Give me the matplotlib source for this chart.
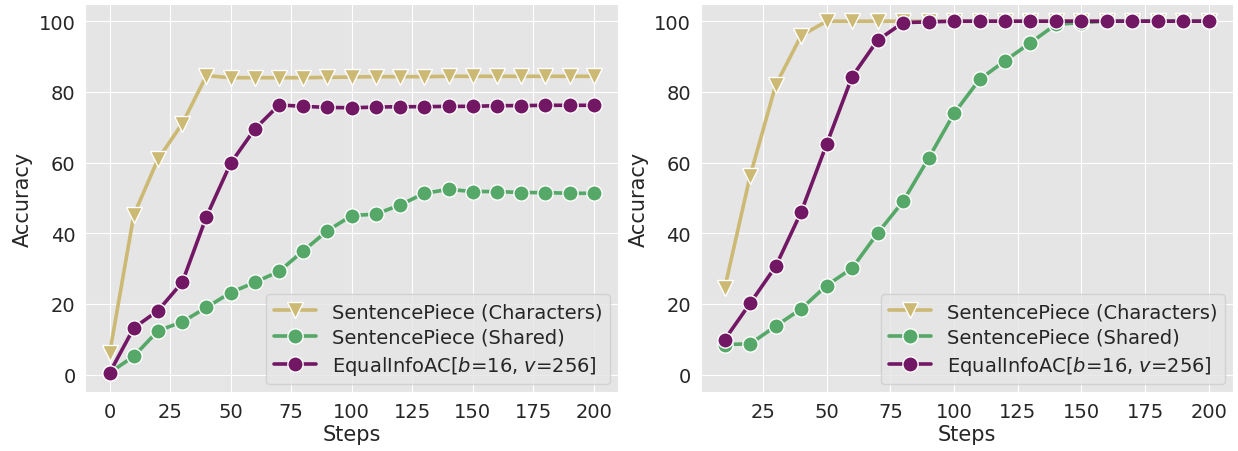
import numpy as np
import matplotlib
matplotlib.use('Agg')
import matplotlib.pyplot as plt
import seaborn as sns

# accuracy vs. training steps, two settings
steps_left = list(range(0, 201, 10))
chars_left = [6.0, 45.2, 61.0, 71.0, 84.6, 84.0, 84.0, 84.0, 84.0, 84.1, 84.2,
              84.3, 84.3, 84.3, 84.4, 84.4, 84.4, 84.4, 84.4, 84.4, 84.4]
shared_left = [0.5, 5.2, 12.4, 14.9, 19.0, 23.2, 26.1, 29.2, 35.0, 40.7, 45.0,
               45.4, 48.0, 51.3, 52.4, 51.8, 51.8, 51.5, 51.5, 51.3, 51.3]
eqac_left = [0.5, 13.2, 18.1, 26.1, 44.7, 59.8, 69.5, 76.3, 75.9, 75.6, 75.5,
             75.7, 75.8, 75.8, 75.9, 75.9, 76.1, 76.1, 76.2, 76.2, 76.2]

steps_right = list(range(10, 201, 10))
chars_right = [24.5, 56.3, 81.9, 95.9, 100, 100, 100, 100, 100, 100,
               100, 100, 100, 100, 100, 100, 100, 100, 100, 100]
shared_right = [8.5, 8.7, 13.7, 18.6, 25.2, 30.1, 40.0, 49.0, 61.2, 73.9,
                83.5, 88.8, 93.9, 99.1, 99.6, 100, 100, 100, 100, 100]
eqac_right = [9.9, 20.2, 30.6, 46.0, 65.2, 84.3, 94.6, 99.6, 99.8, 100,
              100, 100, 100, 100, 100, 100, 100, 100, 100, 100]

labels = ["SentencePiece (Characters)", "SentencePiece (Shared)",
          r"EqualInfoAC[$b$=16, $v$=256]"]
colors = ["#CCB974", "#55A868", "#721764"]
markers = ['v', 'o', 'o']

sns.set_style("darkgrid", {"axes.facecolor": "#e5e5e5", "grid.color": "white"})
plt.rcParams['font.family'] = ['DejaVu Sans']
plt.rcParams['mathtext.fontset'] = 'dejavusans'

fig, axes = plt.subplots(1, 2, figsize=(12.38, 4.52), dpi=100)
fig.subplots_adjust(left=0.069, right=0.996, bottom=0.13, top=0.99, wspace=0.155)

panels = [(axes[0], steps_left, [chars_left, shared_left, eqac_left]),
          (axes[1], steps_right, [chars_right, shared_right, eqac_right])]

for ax, x, series in panels:
    for y, c, m, lab in zip(series, colors, markers, labels):
        ax.plot(x, y, color=c, lw=2.6, marker=m, ms=11,
                mec='white', mew=1.0, label=lab)
    ax.set_ylim(-5, 105)
    ax.set_yticks([0, 20, 40, 60, 80, 100])
    ax.set_xticks([0, 25, 50, 75, 100, 125, 150, 175, 200])
    ax.tick_params(labelsize=14)
    ax.set_xlabel("Steps", fontsize=15, labelpad=2)
    ax.set_ylabel("Accuracy", fontsize=15)
    ax.legend(loc="lower right", fontsize=14, handlelength=2.2,
              borderaxespad=0.4, labelspacing=0.35)

axes[1].set_xlim(0.5, 209.5)

plt.savefig("out.png", dpi=100)
